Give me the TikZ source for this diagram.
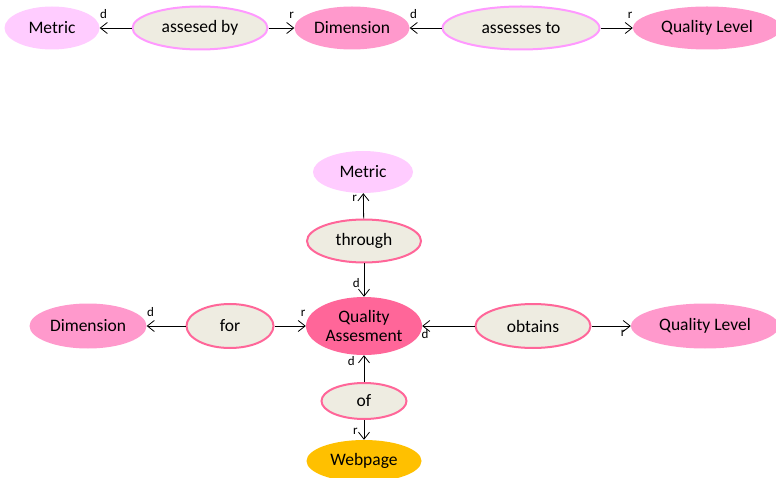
\documentclass[tikz,border=0pt]{standalone}
\usepackage{fontspec}
\setmainfont{Carlito}
\usepackage{tikz}
\usetikzlibrary{calc}
\usetikzlibrary{arrows.meta}
\usetikzlibrary{shapes.geometric}
\definecolor{lilac}{RGB}{255, 204, 255}
\definecolor{rosepink}{RGB}{255, 153, 204}
\definecolor{hotpink}{RGB}{255, 102, 153}
\definecolor{amber}{RGB}{255, 192, 0}
\definecolor{parchment}{RGB}{238, 236, 225}
\definecolor{orchid}{RGB}{255, 153, 255}

\begin{document}
\begin{tikzpicture}[x=1pt, y=-1pt,
    concept/.style={ellipse, inner sep=0pt, font=\fontsize{17.5}{20}\selectfont},
    relation/.style={ellipse, inner sep=0pt, fill=parchment, line width=2pt,
                     font=\fontsize{17.5}{20}\selectfont},
    link/.style={-{Straight Barb[length=7pt, width=11pt]}, line width=0.8pt},
    lbl/.style={inner sep=0pt, pos=1, font=\fontsize{13}{15}\selectfont}]
            % Frame to fix the page size
            \useasboundingbox (0, 0) rectangle (776, 478);
            % Top row
            \node[concept, fill=lilac,    minimum width=95pt,  minimum height=43pt] (metricA)   at ( 52, 28) {Metric};
            \node[relation, draw=orchid,  minimum width=135pt, minimum height=43pt] (assesedby) at (200, 28) {assesed by};
            \node[concept, fill=rosepink, minimum width=115pt, minimum height=43pt] (dimA)      at (352, 28) {Dimension};
            \node[relation, draw=orchid,  minimum width=157pt, minimum height=43pt] (assesses)  at (521, 28) {assesses to};
            \node[concept, fill=rosepink, minimum width=148pt, minimum height=43pt] (levelA)    at (707, 28) {Quality Level};
            \draw[link] (assesedby) -- node[lbl, anchor=south west, yshift=9pt] {d} (metricA);
            \draw[link] (assesedby) -- node[lbl, anchor=south east, yshift=9pt] {r} (dimA);
            \draw[link] (assesses)  -- node[lbl, anchor=south west, yshift=9pt] {d} (dimA);
            \draw[link] (assesses)  -- node[lbl, anchor=south east, yshift=9pt] {r} (levelA);
            % Quality Assesment star
            \node[concept, fill=hotpink,  minimum width=116pt, minimum height=58pt, align=center,
                  font=\fontsize{17.5}{19}\selectfont]                              (qa)        at (364, 326) {Quality\\Assesment};
            \node[concept, fill=lilac,    minimum width=100pt, minimum height=42pt] (metricB)   at (363, 172) {Metric};
            \node[relation, draw=hotpink, minimum width=114pt, minimum height=43pt] (through)   at (364, 241) {through};
            \node[concept, fill=rosepink, minimum width=117pt, minimum height=45pt] (dimB)      at ( 88, 326) {Dimension};
            \node[relation, draw=hotpink, minimum width=87pt,  minimum height=44pt] (for)       at (230, 326) {for};
            \node[relation, draw=hotpink, minimum width=115pt, minimum height=44pt] (obtains)   at (533, 326) {obtains};
            \node[concept, fill=rosepink, minimum width=148pt, minimum height=45pt] (levelB)    at (705, 326) {Quality Level};
            \node[relation, draw=hotpink, minimum width=85pt,  minimum height=36pt] (of)        at (364, 401) {of};
            \node[concept, fill=amber,    minimum width=115pt, minimum height=42pt] (webpage)   at (364, 461) {Webpage};
            \draw[link] (through) -- node[lbl, anchor=north east, xshift=-6pt, yshift=-2pt] {r} (metricB);
            \draw[link] (through) -- node[lbl, anchor=south east, xshift=-4pt, yshift=9pt] {d} (qa);
            \draw[link] (for)     -- node[lbl, anchor=south west, yshift=9pt] {d} (dimB);
            \draw[link] (for)     -- node[lbl, anchor=south east, yshift=9pt] {r} (qa);
            \draw[link] (obtains) -- node[lbl, anchor=north west, xshift=-1pt, yshift=-3pt] {d} (qa);
            \draw[link] (obtains) -- node[lbl, anchor=north east, xshift=-5pt, yshift=-4pt] {r} (levelB);
            \draw[link] (of)      -- node[lbl, anchor=north east, xshift=-9pt, yshift=-1pt] {d} (qa);
            \draw[link] (of)      -- node[lbl, anchor=south east, xshift=-6pt, yshift=5pt] {r} (webpage);
\end{tikzpicture}
\end{document}
